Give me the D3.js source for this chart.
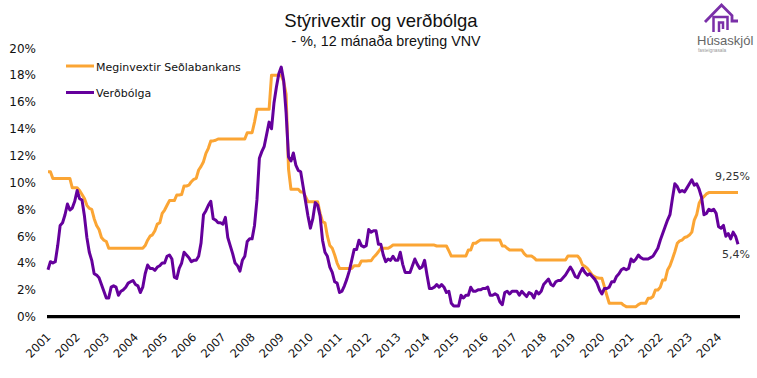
<!DOCTYPE html>
<html><head><meta charset="utf-8">
<script src="https://cdn.jsdelivr.net/npm/d3@7"></script>
<style>body{margin:0;background:#fff} svg{display:block}</style>
</head><body>
<svg id="c" width="757" height="378"></svg>
<script>
// ---- data ----
const yearLabels = ["2001","2002","2003","2004","2005","2006","2007","2008","2009","2010","2011","2012",
  "2013","2014","2015","2016","2017","2018","2019","2020","2021","2022","2023","2024"];
const yTicks = [0,2,4,6,8,10,12,14,16,18,20];
const seriesNames = ["Meginvextir Seðlabankans","Verðbólga"];
const endLabels = ["9,25%","5,4%"];
// Monthly, Jan 2001 - Sep 2024
const policyRate = [
 10.8,10.8,10.3,10.3,10.3,10.3,10.3,10.3,10.3,10.3,9.6,9.6,
 9.6,9.4,9.1,8.8,8.3,8.07,8.0,7.3,6.8,6.5,5.9,5.7,
 5.6,5.1,5.1,5.1,5.1,5.1,5.1,5.1,5.1,5.1,5.1,5.1,
 5.1,5.1,5.1,5.1,5.3,5.7,6.0,6.1,6.4,6.9,7.0,7.7,
 7.95,8.3,8.65,8.65,8.65,9.07,9.07,9.1,9.74,9.74,9.8,10.06,
 10.24,10.31,10.93,11.2,11.55,12.17,12.55,13.09,13.1,13.15,13.24,13.24,
 13.24,13.24,13.24,13.24,13.24,13.24,13.24,13.24,13.24,13.24,13.71,13.71,
 13.71,14.5,15.45,15.45,15.45,15.45,15.45,15.45,18.0,18.0,18.0,18.0,
 18.0,17.5,16.6,11.0,9.5,9.5,9.5,9.5,9.3,9.3,8.94,8.57,
 8.57,8.57,8.57,8.57,7.7,7.08,7.0,6.0,5.3,5.1,4.6,4.0,
 3.6,3.6,3.6,3.6,3.6,3.6,3.8,3.8,3.8,4.15,4.15,4.15,
 4.17,4.17,4.43,4.6,4.84,5.1,5.1,5.1,5.1,5.2,5.34,5.34,
 5.34,5.34,5.34,5.34,5.34,5.34,5.34,5.34,5.34,5.34,5.34,5.34,
 5.34,5.34,5.34,5.34,5.27,5.27,5.27,5.27,5.27,4.9,4.52,4.52,
 4.52,4.52,4.52,4.52,4.52,4.97,4.97,5.47,5.47,5.6,5.71,5.71,
 5.71,5.71,5.71,5.71,5.71,5.71,5.71,5.27,5.27,5.1,4.97,4.97,
 4.97,4.97,4.97,4.97,4.7,4.52,4.52,4.52,4.4,4.22,4.22,4.22,
 4.22,4.22,4.22,4.22,4.22,4.22,4.22,4.22,4.22,4.22,4.52,4.52,
 4.52,4.52,4.52,4.3,3.85,3.75,3.6,3.35,3.1,2.98,2.9,2.86,
 2.86,2.24,1.6,1.0,1.0,1.0,1.0,1.0,1.0,0.85,0.75,0.75,
 0.75,0.75,0.75,0.9,1.0,1.0,1.0,1.37,1.37,1.5,1.99,1.99,
 2.2,2.73,2.73,3.48,3.8,4.3,4.84,5.47,5.65,5.71,5.9,5.96,
 6.08,6.3,7.2,7.6,8.45,8.8,8.95,9.15,9.25,9.25,9.25,9.25,
 9.25,9.25,9.25,9.25,9.25,9.25,9.25,9.25,9.25
];
const inflation = [
 3.5,4.1,4.0,4.1,5.3,6.8,7.0,7.6,8.4,7.95,8.1,8.6,
 9.4,8.8,8.7,7.5,5.9,4.8,4.2,3.2,3.1,2.9,2.4,1.9,
 1.4,1.4,2.2,2.3,2.2,1.6,1.9,2.0,2.2,2.5,2.6,2.7,
 2.4,2.3,1.8,2.2,3.2,3.85,3.6,3.6,3.45,3.7,3.8,4.0,
 4.0,4.5,4.6,4.3,2.95,2.85,3.6,4.0,4.8,4.6,4.4,4.1,
 4.2,4.2,4.5,5.5,7.6,7.9,8.3,8.6,7.3,7.2,7.0,7.0,
 6.9,7.4,5.9,5.3,4.7,4.0,3.8,3.4,4.2,4.5,5.6,5.8,
 5.8,6.8,8.7,11.8,12.3,12.7,13.6,14.5,14.0,15.9,17.1,18.1,
 18.6,17.6,15.2,11.9,11.6,12.2,11.3,10.9,10.8,9.7,8.6,7.5,
 6.6,7.3,8.5,8.3,7.5,5.7,4.8,4.5,3.7,3.3,2.6,2.5,
 1.8,1.9,2.3,2.8,3.4,4.2,5.0,5.0,5.7,5.3,5.2,5.3,
 6.5,6.3,6.4,6.4,5.4,5.4,4.6,4.1,4.3,4.2,4.5,4.2,
 4.2,4.8,3.9,3.3,3.3,3.3,3.8,4.3,3.9,3.6,3.7,4.2,
 3.1,2.1,2.1,2.2,2.4,2.2,2.4,2.2,1.8,1.9,1.0,0.8,
 0.8,0.8,1.6,1.4,1.6,1.6,2.2,1.9,1.9,2.0,2.0,2.1,
 2.1,2.2,1.6,1.6,1.7,1.6,1.1,0.9,1.8,1.9,1.7,1.9,
 1.9,1.9,1.6,1.9,1.7,1.5,1.8,1.7,1.4,1.9,1.7,1.9,
 2.4,2.6,2.8,2.4,2.3,2.6,2.7,2.7,2.9,3.1,3.4,3.7,
 3.4,3.0,2.9,3.3,3.6,3.3,3.1,3.2,3.0,2.8,2.5,2.0,
 1.7,2.1,2.1,2.2,2.6,2.6,3.0,3.2,3.5,3.6,3.5,3.6,
 4.3,4.1,4.3,4.6,4.4,4.3,4.3,4.3,4.4,4.5,4.8,5.1,
 5.7,6.2,6.7,7.2,7.6,8.8,9.9,9.7,9.3,9.4,9.3,9.6,
 9.9,10.2,9.8,9.9,9.5,8.9,7.6,7.7,8.0,7.9,8.0,7.7,
 6.7,6.6,6.8,6.0,6.2,5.8,6.3,6.0,5.4
];
const colors = ["#FBA534","#65009C"];

// ---- chart ----
const svg = d3.select("#c");
const font = "'DejaVu Sans', sans-serif";
const n = inflation.length;
const x = d3.scaleLinear().domain([0, n - 1]).range([48, 738]);
const y = d3.scaleLinear().domain([0, 20]).range([316.7, 48.3]);

// title
svg.append("text").attr("x", 381).attr("y", 27).attr("text-anchor", "middle")
  .style("font-family", "'Liberation Sans', Arial, sans-serif").style("font-size", "18.5px").attr("fill", "#111")
  .text("Stýrivextir og verðbólga");
svg.append("text").attr("x", 386).attr("y", 46).attr("text-anchor", "middle")
  .style("font-family", "'Liberation Sans', Arial, sans-serif").style("font-size", "14.3px").attr("fill", "#111")
  .text("- %, 12 mánaða breyting VNV");

// y axis
const gy = svg.append("g").attr("transform", "translate(48,0)")
  .call(d3.axisLeft(y).tickValues(yTicks).tickFormat(d => d + "%").tickSize(0).tickPadding(12));
gy.select(".domain").remove();
gy.selectAll("text").style("font-family", font).style("font-size", "12px").attr("fill", "#111");

// x axis
const tickIdx = yearLabels.map((_, i) => i * 12);
const gx = svg.append("g").attr("transform", `translate(0,${y(0)})`)
  .call(d3.axisBottom(x).tickValues(tickIdx).tickFormat((d, i) => yearLabels[i]).tickSize(0));
gx.select(".domain").remove();
gx.selectAll("text")
  .style("font-family", font).style("font-size", "11.5px").attr("fill", "#111")
  .attr("text-anchor", "end").attr("dy", null).attr("y", null)
  .attr("transform", "translate(3,21) rotate(-45)");
svg.append("line").attr("x1", 47).attr("x2", 740).attr("y1", y(0)).attr("y2", y(0))
  .attr("stroke", "#000").attr("stroke-width", 3.3);

// lines
const line = d3.line().x((d, i) => x(i)).y(d => y(d)).curve(d3.curveLinear);
[policyRate, inflation].forEach((s, k) => {
  svg.append("path").datum(s).attr("d", line).attr("fill", "none")
    .attr("stroke", colors[k]).attr("stroke-width", 3).attr("stroke-linejoin", "round");
});

// end labels
svg.append("text").attr("x", 750).attr("y", 180).attr("text-anchor", "end")
  .style("font-family", font).style("font-size", "11px").attr("fill", "#333").text(endLabels[0]);
svg.append("text").attr("x", 750).attr("y", 258).attr("text-anchor", "end")
  .style("font-family", font).style("font-size", "11px").attr("fill", "#333").text(endLabels[1]);

// legend
const lg = svg.append("g");
[66, 92.5].forEach((ly, k) => {
  lg.append("line").attr("x1", 66).attr("x2", 94).attr("y1", ly).attr("y2", ly)
    .attr("stroke", colors[k]).attr("stroke-width", 3);
  lg.append("text").attr("x", 96).attr("y", ly + 4.5)
    .style("font-family", font).style("font-size", "11px").attr("fill", "#111").text(seriesNames[k]);
});

// logo
const logo = svg.append("g");
logo.append("path").attr("d", "M705,22 L721.5,5 L732,15.5 L732,21 L738,21")
  .attr("fill", "none").attr("stroke", "#7a2fa8").attr("stroke-width", 2.8).attr("stroke-linejoin", "miter");
logo.append("path").attr("d", "M713.5,32 L713.5,17 L727.5,17 L727.5,30 M719,32 L719,22.5 L723,22.5 L723,29")
  .attr("fill", "none").attr("stroke", "#7a2fa8").attr("stroke-width", 2.5);
logo.append("text").attr("x", 697).attr("y", 45)
  .style("font-family", "'Liberation Sans', Arial, sans-serif").style("font-size", "13px").attr("fill", "#666").text("Húsaskjól");
logo.append("text").attr("x", 698).attr("y", 51.5)
  .style("font-family", "'Liberation Sans', Arial, sans-serif").style("font-size", "4.8px").attr("fill", "#999").text("fasteignasala");
</script>
</body></html>
